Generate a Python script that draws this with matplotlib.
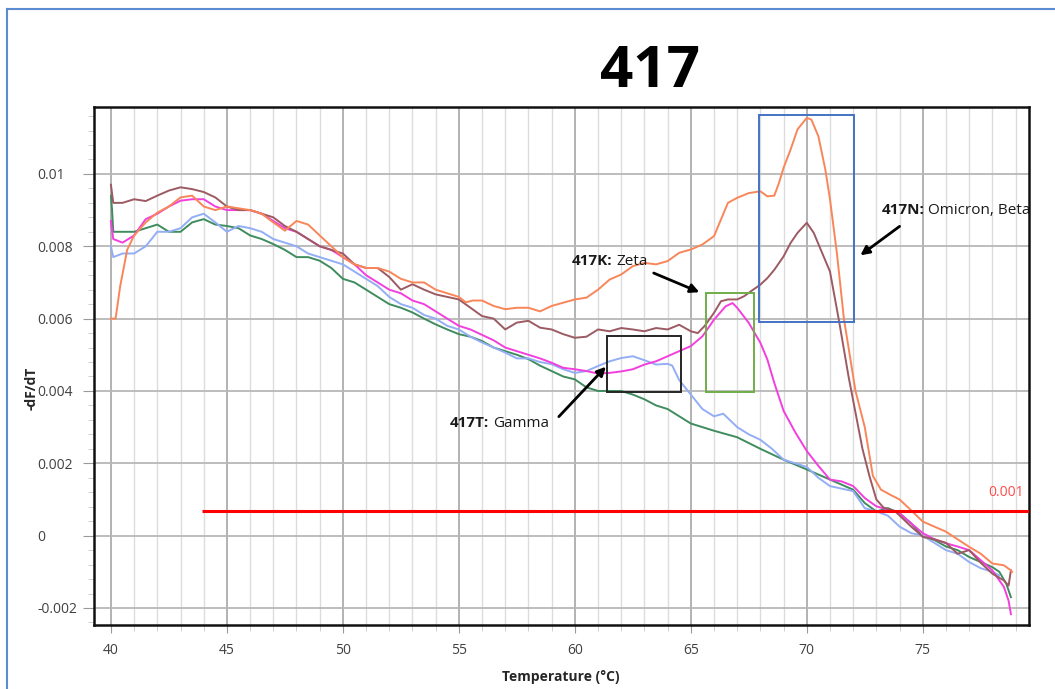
import matplotlib
matplotlib.use("Agg")
import matplotlib.pyplot as plt
from matplotlib.patches import Rectangle
from matplotlib.lines import Line2D
from matplotlib.ticker import MultipleLocator

plt.rcParams['font.family'] = ['Open Sans', 'DejaVu Sans']

# ---- data (temperature in °C, -dF/dT) ----
t_orange = [40.0, 40.2, 40.4, 40.7, 41, 41.5, 42, 42.5, 43, 43.5, 44, 44.5, 45, 45.5, 46, 46.5,
            47, 47.5, 48, 48.5, 49, 49.5, 50, 50.5, 51, 51.5, 52, 52.5, 53, 53.5, 54, 54.5,
            55, 55.3, 55.6, 56, 56.5, 57, 57.5, 58, 58.5, 59, 59.5, 60, 60.5, 61, 61.5, 62,
            62.5, 63, 63.5, 64, 64.5, 65, 65.5, 66, 66.3, 66.6, 67, 67.5, 68, 68.3, 68.6, 68.8,
            69, 69.3, 69.6, 70, 70.2, 70.5, 70.8, 71, 71.3, 71.6, 71.9, 72.1, 72.5, 72.85, 73.2,
            73.6, 74, 74.4, 75, 75.5, 76, 76.5, 77, 77.5, 78, 78.5, 78.8, 78.85]
v_orange = [0.0060, 0.0060, 0.0069, 0.0079, 0.0083, 0.00866, 0.00893, 0.0091, 0.00935, 0.0094,
            0.0091, 0.0090, 0.0091, 0.00905, 0.0090, 0.0089, 0.00866, 0.00843, 0.0087, 0.0086,
            0.0083, 0.0080, 0.0077, 0.0075, 0.0074, 0.0074, 0.0073, 0.0071, 0.0070, 0.0070,
            0.0068, 0.0067, 0.0066, 0.00645, 0.0065, 0.0065, 0.00635, 0.00626, 0.0063, 0.0063,
            0.0062, 0.00635, 0.00644, 0.00653, 0.00658, 0.0068, 0.00708, 0.00722, 0.00745,
            0.00754, 0.0075, 0.00759, 0.00782, 0.00791, 0.00805, 0.00828, 0.00874, 0.0092,
            0.00934, 0.00947, 0.00952, 0.00938, 0.0094, 0.00975, 0.01017, 0.01067, 0.01123,
            0.01155, 0.0115, 0.01104, 0.01012, 0.0093, 0.0078, 0.0060, 0.0048, 0.0040, 0.0030,
            0.00165, 0.00127, 0.00113, 0.0010, 0.00076, 0.00039, 0.00025, 0.00011, -0.0001,
            -0.00031, -0.0005, -0.00077, -0.00082, -0.00096, -0.0010]

t_brown = [40.0, 40.1, 40.5, 41, 41.5, 42, 42.5, 43, 43.5, 44, 44.5, 45, 45.5, 46, 46.5, 47,
           47.5, 48, 48.5, 49, 49.5, 50, 50.5, 51, 51.5, 52, 52.5, 53, 53.5, 54, 54.5, 55, 55.5,
           56, 56.5, 57, 57.5, 58, 58.5, 59, 59.5, 60, 60.5, 61, 61.5, 62, 62.5, 63, 63.5, 64,
           64.5, 65, 65.3, 65.6, 66, 66.3, 66.6, 67, 67.3, 67.6, 68, 68.3, 68.6, 69, 69.3, 69.6,
           70, 70.3, 70.6, 71, 71.4, 71.8, 72.1, 72.4, 72.7, 73.0, 73.3, 73.8, 74.5, 75, 75.5,
           76, 76.5, 77, 77.5, 78, 78.5, 78.7, 78.8]
v_brown = [0.0097, 0.0092, 0.0092, 0.0093, 0.00925, 0.0094, 0.00954, 0.00963, 0.00958, 0.0095,
           0.00935, 0.0091, 0.0090, 0.0090, 0.0089, 0.0088, 0.00856, 0.0084, 0.0082, 0.0080,
           0.0079, 0.0078, 0.0075, 0.0074, 0.0074, 0.00715, 0.0068, 0.00695, 0.0068, 0.00667,
           0.0066, 0.00653, 0.0063, 0.00607, 0.0060, 0.0057, 0.00589, 0.00594, 0.00575, 0.0057,
           0.00557, 0.00547, 0.0055, 0.0057, 0.00565, 0.00574, 0.0057, 0.00565, 0.00574, 0.0057,
           0.00583, 0.00565, 0.0056, 0.0058, 0.00616, 0.00648, 0.00653, 0.00653, 0.00662,
           0.00676, 0.00694, 0.00712, 0.00735, 0.00772, 0.00809, 0.00837, 0.00865, 0.00837,
           0.00791, 0.0073, 0.0059, 0.0044, 0.0034, 0.0024, 0.00165, 0.0010, 0.00078, 0.00068,
           0.00025, -0.00003, -0.0001, -0.0002, -0.0005, -0.0004, -0.00075, -0.00105, -0.00124,
           -0.00138, -0.00096]

t_magenta = [40.0, 40.1, 40.5, 41, 41.5, 42, 42.5, 43, 43.5, 44, 44.5, 45, 45.5, 46, 46.5, 47,
             47.5, 48, 48.5, 49, 49.5, 50, 50.5, 51, 51.5, 52, 52.5, 53, 53.5, 54, 54.5, 55,
             55.5, 56, 56.5, 57, 57.5, 58, 58.5, 59, 59.5, 60, 60.5, 61, 61.5, 62, 62.5, 63,
             63.5, 64, 64.5, 65, 65.5, 66, 66.5, 66.8, 67, 67.5, 68, 68.3, 68.6, 69, 69.5, 70,
             70.5, 71, 71.5, 72, 72.5, 73, 73.5, 74, 74.5, 75, 75.5, 76, 76.5, 77, 77.5, 78,
             78.5, 78.7, 78.8]
v_magenta = [0.0087, 0.0082, 0.0081, 0.0083, 0.00875, 0.0089, 0.0091, 0.00926, 0.0093, 0.0093,
             0.0091, 0.0090, 0.0090, 0.0090, 0.0089, 0.0087, 0.0085, 0.0084, 0.0082, 0.0080,
             0.0079, 0.0077, 0.0075, 0.0072, 0.0070, 0.0068, 0.0067, 0.0065, 0.0064, 0.0062,
             0.0060, 0.0058, 0.0057, 0.00555, 0.0054, 0.0052, 0.0051, 0.0050, 0.0049, 0.00478,
             0.00464, 0.0046, 0.00455, 0.00448, 0.0045, 0.00454, 0.0046, 0.00473, 0.00482,
             0.00496, 0.0051, 0.00524, 0.00551, 0.00597, 0.00634, 0.00643, 0.0063, 0.00588,
             0.00533, 0.00487, 0.00422, 0.00345, 0.00286, 0.00234, 0.00193, 0.00155, 0.0015,
             0.00137, 0.00104, 0.00081, 0.00072, 0.00062, 0.00034, 0.00007, -0.0001, -0.00021,
             -0.0003, -0.0004, -0.00068, -0.00096, -0.00142, -0.0018, -0.00217]

t_blue = [40.0, 40.1, 40.5, 41, 41.5, 42, 42.5, 43, 43.5, 44, 44.5, 45, 45.5, 46, 46.5, 47,
          47.5, 48, 48.5, 49, 49.5, 50, 50.5, 51, 51.5, 52, 52.5, 53, 53.5, 54, 54.5, 55, 55.5,
          56, 56.5, 57, 57.5, 58, 58.5, 59, 59.5, 60, 60.5, 61, 61.5, 62, 62.5, 63, 63.5, 64,
          64.2, 64.5, 65, 65.5, 66, 66.4, 67, 67.5, 68, 68.5, 69, 69.5, 70, 70.5, 71, 71.5, 72,
          72.5, 73, 73.5, 74, 74.5, 75, 75.5, 76, 76.5, 77, 77.5, 78, 78.3]
v_blue = [0.0080, 0.0077, 0.0078, 0.0078, 0.0080, 0.0084, 0.0084, 0.0085, 0.0088, 0.0089,
          0.00866, 0.0084, 0.00856, 0.0085, 0.0084, 0.0082, 0.0081, 0.0080, 0.0078, 0.0077,
          0.0076, 0.0075, 0.0073, 0.0071, 0.0069, 0.0066, 0.0064, 0.0063, 0.0061, 0.0060,
          0.0058, 0.0057, 0.0055, 0.00534, 0.0052, 0.00506, 0.0049, 0.0049, 0.0048, 0.00474,
          0.0046, 0.0045, 0.00455, 0.00469, 0.00482, 0.00491, 0.00496, 0.00485, 0.00473,
          0.00475, 0.0047, 0.0043, 0.0039, 0.0035, 0.0033, 0.00337, 0.0030, 0.0028, 0.00265,
          0.0024, 0.0021, 0.0020, 0.0019, 0.0016, 0.00137, 0.0013, 0.00123, 0.00076, 0.00067,
          0.00055, 0.00025, 0.00007, 0.0, -0.0002, -0.0004, -0.0005, -0.00073, -0.0009, -0.0010,
          -0.0011]

t_green = [40.0, 40.05, 40.1, 40.5, 41, 41.5, 42, 42.5, 43, 43.5, 44, 44.5, 45, 45.5, 46, 46.5,
           47, 47.5, 48, 48.5, 49, 49.5, 50, 50.5, 51, 51.5, 52, 52.5, 53, 53.5, 54, 54.5, 55,
           55.5, 56, 56.5, 57, 57.5, 58, 58.5, 59, 59.5, 60, 60.5, 61, 61.5, 62, 62.5, 63, 63.5,
           64, 64.5, 65, 65.5, 66, 67, 68, 69, 70, 71, 72, 72.5, 73, 73.5, 74, 74.5, 75, 75.5,
           76, 76.5, 77, 77.5, 78, 78.3, 78.6, 78.8]
v_green = [0.0094, 0.0090, 0.0084, 0.0084, 0.0084, 0.0085, 0.0086, 0.0084, 0.0084, 0.00866,
           0.00875, 0.0086, 0.00856, 0.0085, 0.0083, 0.0082, 0.00806, 0.0079, 0.0077, 0.0077,
           0.0076, 0.0074, 0.0071, 0.0070, 0.0068, 0.0066, 0.0064, 0.0063, 0.00617, 0.0060,
           0.00584, 0.0057, 0.00557, 0.0055, 0.00538, 0.0052, 0.0051, 0.0050, 0.00488, 0.0047,
           0.00455, 0.0044, 0.00432, 0.0041, 0.0040, 0.0040, 0.0040, 0.0039, 0.00377, 0.0036,
           0.0035, 0.0033, 0.0031, 0.0030, 0.0029, 0.00272, 0.0024, 0.0021, 0.00183, 0.00155,
           0.00127, 0.0009, 0.00067, 0.00076, 0.00062, 0.00034, -0.00003, -0.00012, -0.0003,
           -0.0004, -0.00059, -0.00073, -0.00087, -0.0010, -0.00133, -0.0017]

threshold = 0.00067
threshold_start = 43.93
x_ticks = [40, 45, 50, 55, 60, 65, 70, 75]
y_ticks = [-0.002, 0, 0.002, 0.004, 0.006, 0.008, 0.01]
y_tick_labels = ["-0.002", "0", "0.002", "0.004", "0.006", "0.008", "0.01"]

# ---- figure ----
W, H = 1055, 689
fig = plt.figure(figsize=(W / 100, H / 100), dpi=100)
ax = fig.add_axes([94 / W, 1 - 625 / H, (1029 - 94) / W, (625 - 107) / H])

ax.plot(t_green, v_green, color='#3F8C5E', lw=1.4, zorder=3)
ax.plot(t_blue, v_blue, color='#93AEF5', lw=1.4, zorder=3)
ax.plot(t_magenta, v_magenta, color='#F23FDD', lw=1.4, zorder=3)
ax.plot(t_brown, v_brown, color='#9C5A62', lw=1.4, zorder=3)
ax.plot(t_orange, v_orange, color='#F98659', lw=1.4, zorder=3)

ax.set_xlim(39.27, 79.58)
ax.set_ylim(-0.00247, 0.01185)

ax.hlines(threshold, threshold_start, 79.58, color='#FF0000', lw=2.2, zorder=4)
ax.text(79.35, 0.00119, "0.001", ha='right', va='center', color='#FF4A4A', fontsize=10)

# boxes round the peaks
ax.add_patch(Rectangle((67.96, 0.0059), 72.02 - 67.96, 0.01162 - 0.0059,
                       fill=False, ec='#4472C4', lw=1.4, zorder=5))
ax.add_patch(Rectangle((65.66, 0.00396), 67.72 - 65.66, 0.00671 - 0.00396,
                       fill=False, ec='#70AD47', lw=1.4, zorder=5))
ax.add_patch(Rectangle((61.37, 0.00396), 64.58 - 61.37, 0.00553 - 0.00396,
                       fill=False, ec='#262626', lw=1.4, zorder=5))

# arrows
arrow = dict(arrowstyle='-|>', color='black', lw=2, mutation_scale=13, shrinkA=0, shrinkB=0)
ax.annotate("", xy=(72.31, 0.00775), xytext=(74.0, 0.00855), arrowprops=arrow, zorder=6)
ax.annotate("", xy=(65.37, 0.00673), xytext=(63.40, 0.00726), arrowprops=arrow, zorder=6)
ax.annotate("", xy=(61.34, 0.00467), xytext=(59.31, 0.00329), arrowprops=arrow, zorder=6)

renderer = fig.canvas.get_renderer()


def variant_label(x, y, bold, rest):
    t = ax.text(x, y, bold, fontweight='bold', fontsize=11, ha='left', va='baseline',
                color='#1a1a1a', zorder=6)
    w = t.get_window_extent(renderer).width
    ax.annotate(rest, xy=(x, y), xytext=((w + 4) * 72 / 100, 0), textcoords='offset points',
                ha='left', va='baseline', fontsize=11, color='#1a1a1a', zorder=6)


variant_label(73.22, 0.00888, "417N:", "Omicron, Beta")
variant_label(59.86, 0.00747, "417K:", "Zeta")
variant_label(54.6, 0.00299, "417T:", "Gamma")

# ticks and grid
ax.set_xticks(x_ticks)
ax.xaxis.set_minor_locator(MultipleLocator(1))
ax.set_yticks(y_ticks)
ax.set_yticklabels(y_tick_labels)
ax.yaxis.set_minor_locator(MultipleLocator(0.0004))
ax.grid(which='major', axis='x', color='#ADADAD', lw=1.3, zorder=1)
ax.grid(which='minor', axis='x', color='#DCDCDC', lw=1.0, zorder=1)
ax.grid(which='major', axis='y', color='#B8B8B8', lw=1.3, zorder=1)
ax.set_axisbelow(True)

ax.tick_params(axis='x', which='major', length=6, color='#9A9A9A', labelsize=10,
               labelcolor='#404040', pad=7)
ax.tick_params(axis='x', which='minor', length=4, color='#C8C8C8')
ax.tick_params(axis='y', which='major', length=8, color='#9A9A9A', labelsize=10,
               labelcolor='#404040', pad=33)
ax.tick_params(axis='y', which='minor', length=4, color='#C8C8C8')
for lab in ax.get_yticklabels():
    lab.set_horizontalalignment('left')

for sp in ax.spines.values():
    sp.set_color('#111111')
    sp.set_linewidth(1.8)

fig.text(561 / W, 1 - 677 / H, "Temperature (°C)", ha='center', va='center',
         fontsize=10, fontweight='bold', color='#262626')
fig.text(32 / W, 1 - 388 / H, "-dF/dT", ha='center', va='center', rotation=90,
         fontsize=10, fontweight='bold', color='#262626')
fig.text(650 / W, 1 - 72 / H, "417", ha='center', va='center', fontsize=42,
         fontweight='bold', color='black')

# thin blue frame round the picture
fig.add_artist(Line2D([7 / W, 7 / W], [0, 1 - 9 / H], transform=fig.transFigure,
                      color='#5B8BD0', lw=1.5))
fig.add_artist(Line2D([7 / W, 1], [1 - 9 / H, 1 - 9 / H], transform=fig.transFigure,
                      color='#5B8BD0', lw=1.5))

fig.savefig("out.png", dpi=100)
